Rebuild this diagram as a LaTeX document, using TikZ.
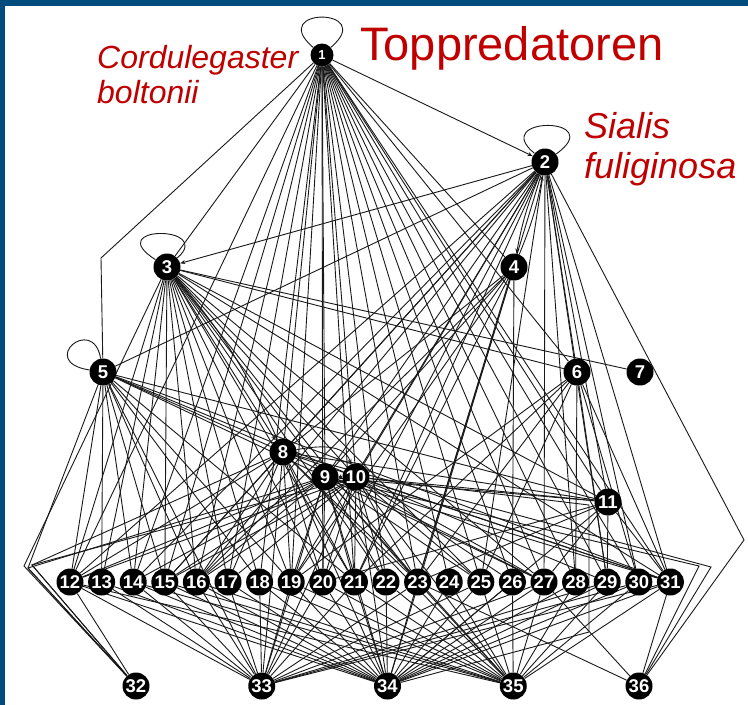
\documentclass[tikz,border=0pt]{standalone}
\usepackage{fontspec}
\newfontfamily\arialfont{Liberation Sans}
\usetikzlibrary{arrows.meta,backgrounds}
\definecolor{slideblue}{RGB}{0,75,125}
\definecolor{labelred}{RGB}{192,0,0}

\begin{document}
\begin{tikzpicture}[x=1pt, y=1pt, >={Stealth[length=5pt,width=4pt]},
  sp/.style={circle, fill=black, text=white, inner sep=0pt, minimum size=27pt,
    font=\arialfont\bfseries\fontsize{18.5}{18.5}\selectfont},
  link/.style={line width=0.9pt, draw=black!90},
  redlabel/.style={text=labelred, inner sep=0pt, anchor=base west}]
  \useasboundingbox (0,0) rectangle (748,-705);
  \begin{scope}[on background layer]
    \fill[white] (0,0) rectangle (748,-705);
    \fill[slideblue] (0,0) rectangle (748,-6);
    \fill[slideblue] (0,0) rectangle (5,-705);
  \end{scope}

  % upper species
  \node[sp, minimum size=23pt, font=\arialfont\bfseries\fontsize{13}{13}\selectfont] (n1) at (322,-55) {1};
  \node[sp] (n2) at (545,-162) {2};
  \node[sp] (n3) at (167,-267) {3};
  \node[sp] (n4) at (514,-267) {4};
  \node[sp] (n5) at (103,-372) {5};
  \node[sp] (n6) at (577,-372) {6};
  \node[sp] (n7) at (640,-372) {7};
  \node[sp] (n8) at (283,-452) {8};
  \node[sp] (n9) at (325,-477) {9};
  \node[sp] (n10) at (356,-477) {10};
  \node[sp] (n11) at (608,-502) {11};
  % consumer row and basal row
  \foreach \i [evaluate=\i as \xx using {70+(\i-12)*31.6}] in {12,...,31}
    \node[sp] (n\i) at (\xx,-582) {\i};
  \foreach \i [evaluate=\i as \xx using {136+(\i-32)*125.75}] in {32,...,36}
    \node[sp] (n\i) at (\xx,-686) {\i};

  % bends of routed links
  \coordinate (bend5) at (101,-258);
  \coordinate (wl1) at (24,-566);
  \coordinate (wl2) at (28,-568);
  \coordinate (wl3) at (32,-565);
  \coordinate (wr1) at (744,-540);
  \coordinate (wr2) at (711,-567);
  \coordinate (wr3) at (699,-566);
  \coordinate (wp1) at (589,-505);
  \coordinate (wp2) at (589,-632);

  \node[redlabel, font=\arialfont\fontsize{47}{47}\selectfont] (title) at (360,-60) {Toppredatoren};
  \node[redlabel, font=\arialfont\itshape\fontsize{32}{32}\selectfont] (cord1) at (97,-68) {Cordulegaster};
  \node[redlabel, font=\arialfont\itshape\fontsize{32}{32}\selectfont] (cord2) at (97,-103) {boltonii};
  \node[redlabel, font=\arialfont\itshape\fontsize{36}{36}\selectfont] (sial1) at (584,-138) {Sialis};
  \node[redlabel, font=\arialfont\itshape\fontsize{36}{36}\selectfont] (sial2) at (584,-178) {fuliginosa};

  \begin{scope}[on background layer]
    % feeding links
    \foreach \a/\blist in {
      1/{3,4,6,8,9,10,11,12,14,15,16,17,18,19,20,21,22,23,24,25,26,27,28,29,30,31},
      2/{5,6,8,9,10,11,12,14,15,16,19,20,21,23,25,27,28,29,30,31},
      3/{6,7,9,10,11,12,13,14,15,16,17,18,19,20,21,22,23,25,27,31},
      4/{8,9,16,19,21,23,26,34},
      5/{8,9,10,11,12,13,14,15,16,18,19,21,31,33},
      6/{19,21,23,25,28,29,30,31},
      8/{11,12,15,16,17,19,20,21,23,27,31,33,34,35},
      9/{11,12,14,15,16,19,20,21,22,23,25,27,31,33,34,35},
      10/{11,12,15,16,17,20,21,22,23,25,26,27,29,31,33,34,35},
      11/{20,23,27,29,31,34},
      12/{32,33,34,35}, 13/{33,34}, 14/{33,34,35}, 15/{33,34,35},
      16/{33,34,35}, 17/{33,34}, 18/{33,34,35}, 19/{33,34,35},
      20/{33,34,35}, 21/{33,34,35}, 22/{34,35}, 23/{33,34,35,36},
      24/{34,35}, 25/{33,34,35}, 26/{34,35}, 27/{33,34,35,36},
      28/{34,35}, 29/{33,34,35}, 30/{33,34,35}, 31/{33,34,35,36}}
      \foreach \b in \blist
        \draw[link] (n\a) -- (n\b);

    % routed links
    \draw[link] (n1) -- (bend5) -- (n5);
    \draw[link] (n3) -- (wl1) -- (n32);
    \draw[link] (n5) -- (wl2) -- (n32);
    \draw[link] (n8) -- (wl3) -- (n32);
    \draw[link] (n9) -- (wl2) -- (n32);
    \draw[link] (n10) -- (wl3) -- (n32);
    \draw[link] (n2) -- (wr1) -- (n36);
    \draw[link] (n8) -- (wr2) -- (n36);
    \draw[link] (n9) -- (wr3) -- (n36);
    \draw[link] (n10) -- (wp1) -- (wp2) -- (n34);

    % arrows
    \draw[link,->] (n1) -- (n2);
    \draw[link,->] (n2) -- (n3);
    \draw[link,->] (n2) to[bend right=6] (n4);
    \draw[link,->] (n4) to[bend right=6] (n2);
    \draw[link,->] (n3) -- (n8);
    \draw[link,->] (n8) to[bend right=8] (n3);
    \draw[link,->] (n8) to[out=10,in=110] (n10);
    \draw[link,{Stealth[length=2.5pt,width=5pt]}-{Stealth[length=2.5pt,width=5pt]}] (n9) -- (n10);

    % cannibal loops
    \draw[link] (n1) .. controls +(-56,48) and +(56,48) .. (n1);
    \draw[link] (n2) .. controls +(-56,46) and +(64,46) .. (n2);
    \draw[link] (n3) .. controls +(-66,42) and +(48,42) .. (n3);
    \draw[link] (n5) .. controls +(-66,10) and +(-10,58) .. (n5);
  \end{scope}
\end{tikzpicture}
\end{document}
